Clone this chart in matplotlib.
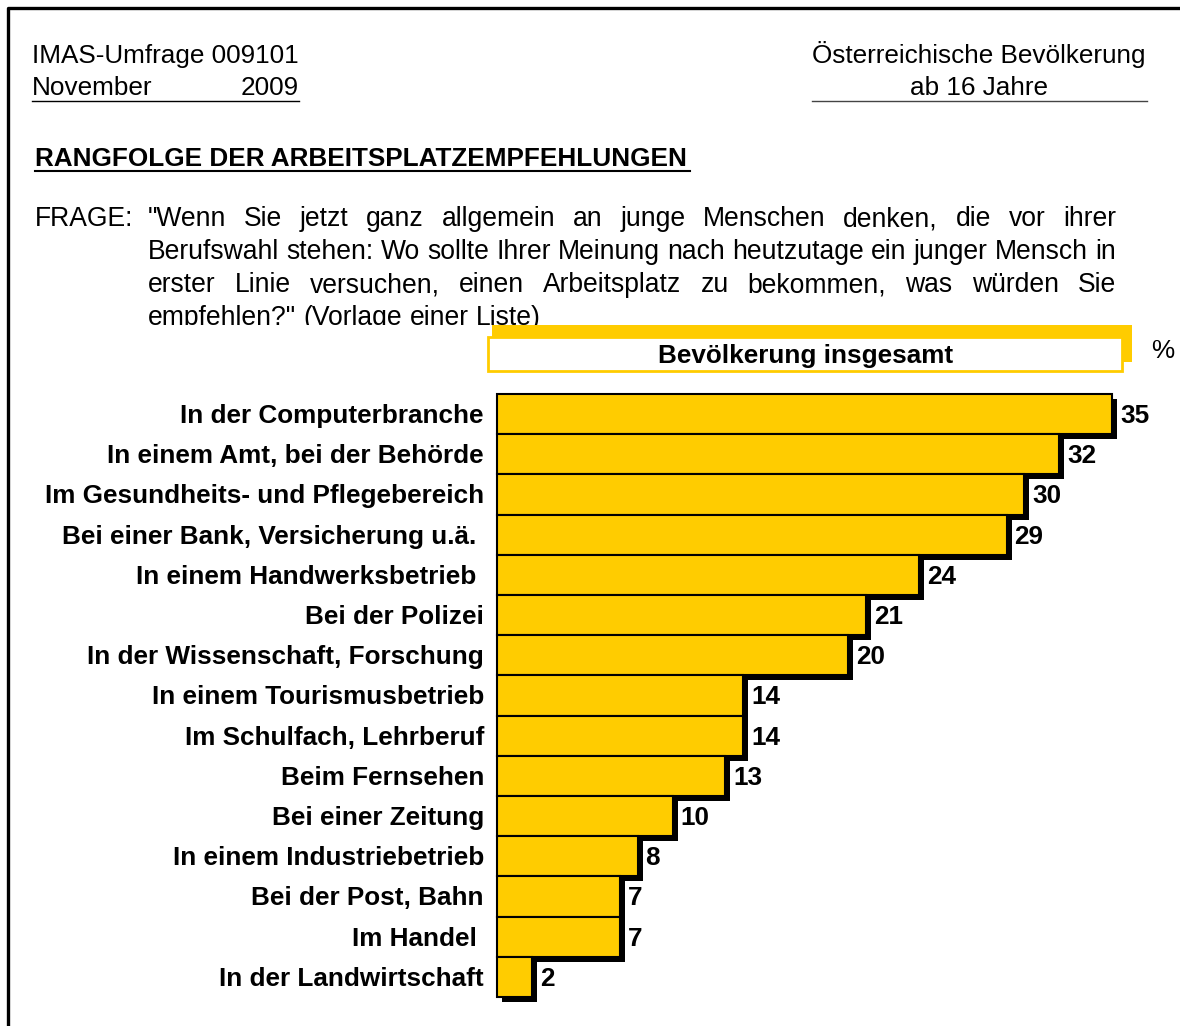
import matplotlib
matplotlib.use('Agg')
import matplotlib.pyplot as plt
from matplotlib.patches import Rectangle
from matplotlib.lines import Line2D
from matplotlib import transforms

plt.rcParams['font.family'] = ['Liberation Sans', 'DejaVu Sans']

categories = ['In der Computerbranche', 'In einem Amt, bei der Behörde',
              'Im Gesundheits- und Pflegebereich', 'Bei einer Bank, Versicherung u.ä. ',
              'In einem Handwerksbetrieb ', 'Bei der Polizei',
              'In der Wissenschaft, Forschung', 'In einem Tourismusbetrieb',
              'Im Schulfach, Lehrberuf', 'Beim Fernsehen', 'Bei einer Zeitung',
              'In einem Industriebetrieb', 'Bei der Post, Bahn', 'Im Handel ',
              'In der Landwirtschaft']
values = [35, 32, 30, 29, 24, 21, 20, 14, 14, 13, 10, 8, 7, 7, 2]

question_lines = [
    '"Wenn Sie jetzt ganz allgemein an junge Menschen denken, die vor ihrer',
    'Berufswahl stehen: Wo sollte Ihrer Meinung nach heutzutage ein junger Mensch in',
    'erster Linie versuchen, einen Arbeitsplatz zu bekommen, was würden Sie',
    'empfehlen?" (Vorlage einer Liste)',
]

W, H = 1180, 1026
YELLOW = '#FFCC00'
FS = 18.8
FSQ = 19.1


def fx(x):
    return x / W


def fy(y):
    return 1 - y / H


fig = plt.figure(figsize=(W / 100, H / 100), dpi=100)
renderer = fig.canvas.get_renderer()

# frame (top and left edges)
fig.add_artist(Line2D([fx(8), fx(8), fx(1180)], [fy(1026), fy(8), fy(8)],
                      color='black', lw=2.4, transform=fig.transFigure))

# header
fig.text(fx(32), fy(63), 'IMAS-Umfrage 009101', fontsize=FS, va='baseline')
fig.text(fx(32), fy(95), 'November', fontsize=FS, va='baseline')
fig.text(fx(299), fy(95), '2009', fontsize=FS, va='baseline', ha='right')
fig.add_artist(Line2D([fx(32), fx(299)], [fy(101), fy(101)], color='black',
                      lw=1, transform=fig.transFigure))
fig.text(fx(979), fy(63), 'Österreichische Bevölkerung', fontsize=FS,
         va='baseline', ha='center')
fig.text(fx(979), fy(95), 'ab 16 Jahre', fontsize=FS, va='baseline', ha='center')
fig.add_artist(Line2D([fx(812), fx(1147)], [fy(101), fy(101)], color='#444444',
                      lw=1, transform=fig.transFigure))

# title
fig.text(fx(35), fy(166), 'RANGFOLGE DER ARBEITSPLATZEMPFEHLUNGEN', fontsize=FS,
         fontweight='bold', va='baseline')
fig.add_artist(Line2D([fx(35), fx(690)], [fy(171), fy(171)], color='black',
                      lw=1.5, transform=fig.transFigure))

# question, justified
fig.text(fx(35), fy(226), 'FRAGE:', fontsize=FSQ, va='baseline')
clip = Rectangle((0, fy(325)), 1, 1, transform=fig.transFigure)
x0, x1 = 148, 1116
for i, line in enumerate(question_lines):
    base = 226 + i * 33
    words = line.split(' ')
    texts = [fig.text(0, fy(base), w, fontsize=FSQ, va='baseline') for w in words]
    widths = [t.get_window_extent(renderer).width for t in texts]
    if i < len(question_lines) - 1:
        gap = (x1 - x0 - sum(widths)) / (len(words) - 1)
    else:
        gap = FSQ * 100 / 72 * 0.278
    x = x0
    for t, w in zip(texts, widths):
        t.set_x(fx(x))
        t.set_clip_path(clip)
        x += w + gap

# legend-like header box
fig.add_artist(Rectangle((fx(492), fy(362)), fx(640), 37 / H, facecolor=YELLOW,
                         edgecolor='none', transform=fig.transFigure))
fig.add_artist(Rectangle((fx(488), fy(371)), fx(634), 34 / H, facecolor='white',
                         edgecolor=YELLOW, lw=2, transform=fig.transFigure))
fig.text(fx(806), fy(363), 'Bevölkerung insgesamt', fontsize=FS,
         fontweight='bold', ha='center', va='baseline')
fig.text(fx(1163), fy(358), '%', fontsize=FS, ha='center', va='baseline')

# bars
px_per_unit = (1112 - 497) / 35
ax = fig.add_axes([fx(497), fy(997), fx(W - 497), 603 / H])
ax.set_xlim(0, (W - 497) / px_per_unit)
ax.set_ylim(len(values) - 0.5, -0.5)
ax.axis('off')

pos = list(range(len(values)))
row_px = 603 / len(values)
dx = 5 / px_per_unit
dy = 5 / row_px
ax.barh([p + dy for p in pos], values, left=dx, height=1, color='black',
        zorder=1, clip_on=False)
ax.barh(pos, values, height=1, color=YELLOW, edgecolor='black', lw=1.5,
        zorder=2, clip_on=False)

for p, v in zip(pos, values):
    ax.text(v + 8 / px_per_unit, p + 0.22, str(v), fontsize=FS,
            fontweight='bold', va='baseline', ha='left')

trans = transforms.blended_transform_factory(fig.transFigure, ax.transData)
for p, c in zip(pos, categories):
    ax.text(fx(484), p + 0.22, c, fontsize=FS, fontweight='bold',
            va='baseline', ha='right', transform=trans)

fig.savefig('out.png', dpi=100)
